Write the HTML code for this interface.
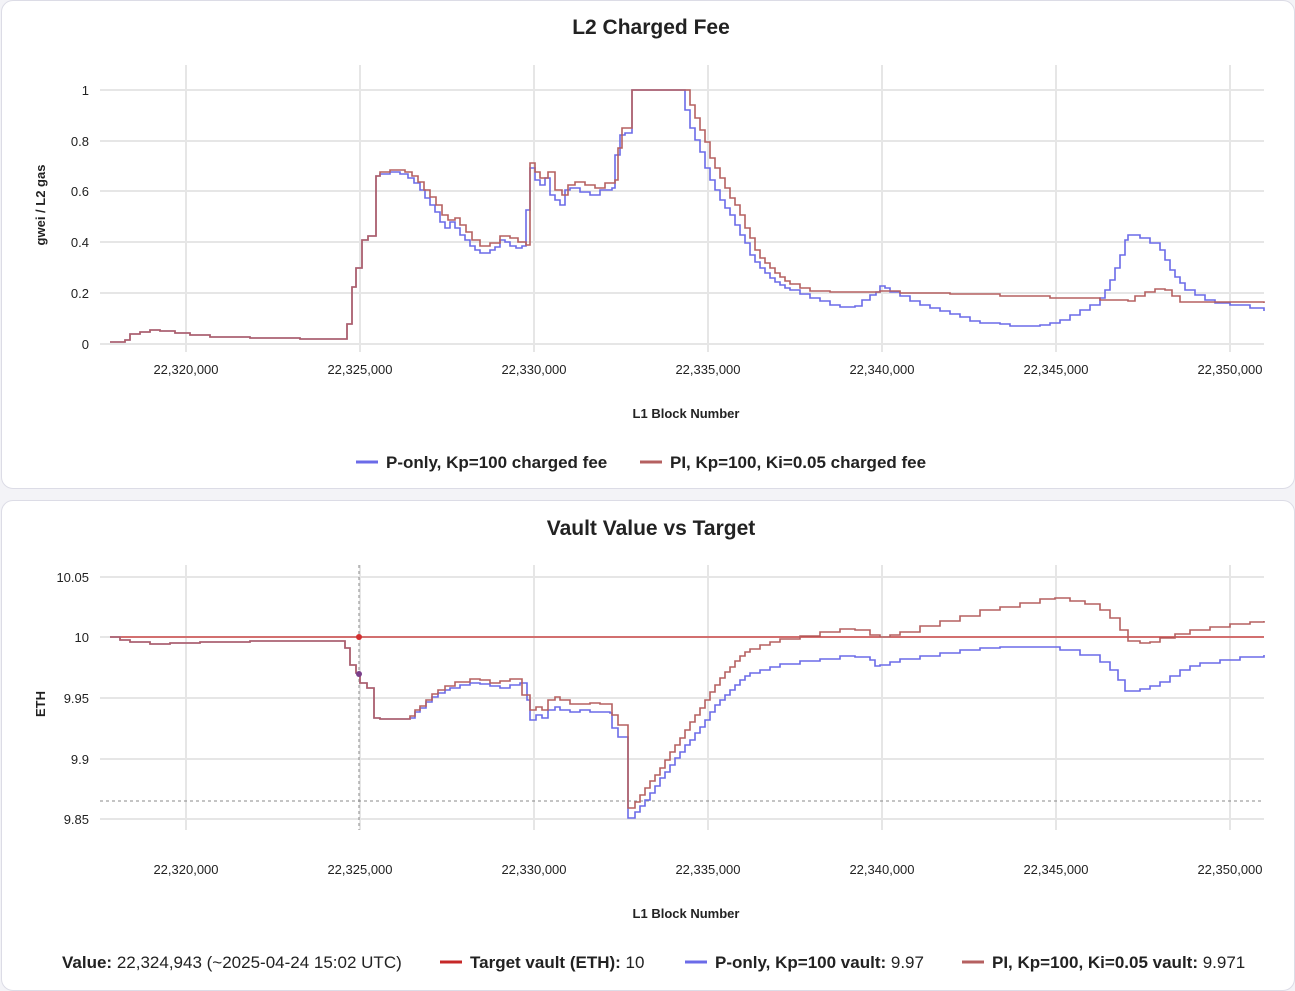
<!DOCTYPE html><html><head><style>
body{margin:0;background:#f3f3f7;width:1295px;height:989px;overflow:hidden;font-family:"Liberation Sans","DejaVu Sans",sans-serif}
.card{position:absolute;left:1px;width:1292px;background:#fff;border:1px solid #dcdce6;border-radius:12px}
svg{position:absolute;left:0;top:0}
text{font-family:"Liberation Sans","DejaVu Sans",sans-serif}
</style></head><body>
<div class="card" style="top:0;height:487px"></div>
<div class="card" style="top:500px;height:489px"></div>
<svg width="1295" height="989">
<g stroke="#e6e6e6" stroke-width="2">
<path d="M186 65V352M360 65V352M534 65V352M708 65V352M882 65V352M1056 65V352M1230 65V352"/>
<path d="M100 90H1264M100 141H1264M100 191H1264M100 242H1264M100 293H1264M100 344H1264"/>
<path d="M186 565V830M360 565V830M534 565V830M708 565V830M882 565V830M1056 565V830M1230 565V830"/>
<path d="M100 577H1264M100 637H1264M100 698H1264M100 759H1264M100 819H1264"/>
</g>
<text x="651" y="34" text-anchor="middle" font-size="21" font-weight="bold" fill="#222">L2 Charged Fee</text>
<text x="651" y="535" text-anchor="middle" font-size="21" font-weight="bold" fill="#222">Vault Value vs Target</text>
<g font-size="13" fill="#222" text-anchor="end">
<text x="89" y="95">1</text><text x="89" y="146">0.8</text><text x="89" y="196">0.6</text><text x="89" y="247">0.4</text><text x="89" y="298">0.2</text><text x="89" y="349">0</text>
<text x="89" y="582">10.05</text><text x="89" y="642">10</text><text x="89" y="703">9.95</text><text x="89" y="764">9.9</text><text x="89" y="824">9.85</text>
</g>
<g font-size="13" fill="#222" text-anchor="middle">
<text x="186" y="374">22,320,000</text><text x="360" y="374">22,325,000</text><text x="534" y="374">22,330,000</text><text x="708" y="374">22,335,000</text><text x="882" y="374">22,340,000</text><text x="1056" y="374">22,345,000</text><text x="1230" y="374">22,350,000</text>
<text x="186" y="874">22,320,000</text><text x="360" y="874">22,325,000</text><text x="534" y="874">22,330,000</text><text x="708" y="874">22,335,000</text><text x="882" y="874">22,340,000</text><text x="1056" y="874">22,345,000</text><text x="1230" y="874">22,350,000</text>
<text x="686" y="418" font-weight="bold">L1 Block Number</text>
<text x="686" y="918" font-weight="bold">L1 Block Number</text>
</g>
<text transform="translate(45,205) rotate(-90)" text-anchor="middle" font-size="13" font-weight="bold" fill="#222">gwei / L2 gas</text>
<text transform="translate(45,704) rotate(-90)" text-anchor="middle" font-size="13" font-weight="bold" fill="#222">ETH</text>
<g fill="none" stroke-width="1.6">
<path stroke="#6b6be8" d="M110 342H125V340H130V334H140V332H150V330H160V331H175V333H190V335H210V337H250V338H300V339H347V324H352V287H356V268H362V240H368V236H372V236H376V176H380V174H390V172H400V174H408V178H414V183H420V190H425V198H430V205H435V212H440V222H445V228H450V222H455V228H460V235H465V240H470V246H475V250H480V253H490V250H495V247H500V240H505V242H510V246H516V248H522V246H526V210H530V168H535V180H540V185H545V178H550V195H555V200H560V205H565V190H570V188H580V192H590V195H600V190H612V188H615V155H620V135H625V133H632V90H685V110H690V128H695V140H700V152H705V168H710V180H715V190H720V200H725V208H730V215H735V225H740V235H745V243H750V255H755V262H760V268H765V273H770V278H775V282H780V285H785V288H790V290H800V294H810V298H820V301H830V305H840V307H855V306H862V300H870V295H876V292H880V286H885V288H890V292H900V296H910V301H920V305H930V308H940V311H950V314H960V317H970V321H980V323H1000V324H1010V326H1040V325H1050V323H1060V320H1070V315H1080V310H1090V305H1100V298H1105V290H1110V280H1115V268H1120V255H1125V240H1128V235H1140V238H1150V243H1160V250H1165V260H1170V270H1175V277H1180V283H1185V290H1195V295H1205V300H1215V303H1230V305H1250V308H1264V311"/>
<path stroke="#b56060" d="M110 342H125V340H130V334H140V332H150V330H160V331H175V333H190V335H210V337H250V338H300V339H347V324H352V287H356V268H362V240H368V236H372V236H376V176H380V172H390V170H405V172H412V176H418V182H424V190H430V197H436V205H442V215H448V220H455V218H460V225H466V232H472V240H480V246H490V243H500V236H510V238H518V242H526V245H530V163H535V172H540V178H548V172H555V190H562V195H568V185H575V182H585V185H595V188H605V183H615V180H618V148H622V128H630V128H632V90H690V105H695V118H700V130H705V142H710V158H715V168H720V178H725V188H730V198H735V205H740V215H745V228H750V238H755V250H760V258H765V263H770V268H775V273H780V277H785V281H790V284H800V288H810V291H830V292H880V291H900V293H950V294H1000V296H1050V298H1100V300H1128V301H1135V296H1145V292H1155V289H1165V290H1172V296H1180V302H1264V303"/>
<path stroke="#888" stroke-width="1" stroke-dasharray="3,3" d="M359 565V830M100 801H1264"/>
<path stroke="#c62828" stroke-width="1.3" d="M110 637H1264"/>
<path stroke="#6b6be8" d="M110 637H120V640H130V642H150V644H170V643H200V642H250V641H345V648H350V665H356V673H360V683H367V688H374V718H380V719H410V718H415V712H420V708H426V702H432V697H438V693H445V690H450V688H460V685H470V683H480V684H490V686H500V688H510V685H520V683H527V700H530V720H536V715H542V718H548V710H555V707H560V710H570V712H580V710H590V712H610V713H612V728H618V737H628V818H635V812H640V806H645V800H650V793H655V786H660V778H665V772H670V765H675V758H680V752H685V745H690V740H695V733H700V727H705V720H710V712H715V705H720V700H725V695H730V690H735V685H740V680H745V676H750V673H760V670H770V667H780V664H800V661H820V659H840V656H855V657H870V660H875V666H880V665H890V662H900V659H920V656H940V653H960V650H980V648H1000V647H1040V647H1060V650H1080V655H1100V662H1110V670H1118V680H1125V691H1140V689H1150V686H1160V682H1170V676H1180V670H1190V666H1200V663H1220V660H1240V657H1264V655"/>
<path stroke="#b56060" d="M110 637H120V640H130V642H150V644H170V643H200V642H250V641H345V648H350V665H356V673H360V683H367V688H374V718H380V719H410V716H415V710H420V706H426V700H432V694H438V690H445V686H455V682H470V679H480V680H490V683H500V681H510V679H522V695H530V710H536V707H542V710H548V700H555V697H560V700H570V704H580V704H590V703H600V704H610V704H612V715H618V725H628V808H635V802H640V795H645V788H650V781H655V775H660V768H665V760H670V752H675V745H680V738H685V730H690V722H695V715H700V708H705V700H710V692H715V685H720V678H725V672H730V667H735V661H740V656H745V652H750V649H760V645H770V642H780V639H800V636H820V632H840V629H855V630H870V635H880V637H890V635H900V632H920V626H940V621H960V616H980V610H1000V607H1020V603H1040V599H1055V598H1070V601H1085V604H1100V610H1110V618H1120V630H1128V641H1140V643H1150V642H1160V638H1175V634H1190V630H1210V627H1230V624H1250V622H1264V621"/>
</g>
<circle cx="359" cy="637" r="3" fill="#d32f2f"/><circle cx="359" cy="674" r="3" fill="#7a3e8a"/>
<g font-size="17" fill="#222">
<path d="M356 462H378" stroke="#6b6be8" stroke-width="3"/><text x="386" y="468" font-weight="bold">P-only, Kp=100 charged fee</text>
<path d="M640 462H662" stroke="#b56060" stroke-width="3"/><text x="670" y="468" font-weight="bold">PI, Kp=100, Ki=0.05 charged fee</text>
<text x="62" y="968"><tspan font-weight="bold">Value:</tspan> 22,324,943 (~2025-04-24 15:02 UTC)</text>
<path d="M440 962H462" stroke="#c62828" stroke-width="3"/><text x="470" y="968"><tspan font-weight="bold">Target vault (ETH):</tspan> 10</text>
<path d="M685 962H707" stroke="#6b6be8" stroke-width="3"/><text x="715" y="968"><tspan font-weight="bold">P-only, Kp=100 vault:</tspan> 9.97</text>
<path d="M962 962H984" stroke="#b56060" stroke-width="3"/><text x="992" y="968"><tspan font-weight="bold">PI, Kp=100, Ki=0.05 vault:</tspan> 9.971</text>
</g>
</svg></body></html>
